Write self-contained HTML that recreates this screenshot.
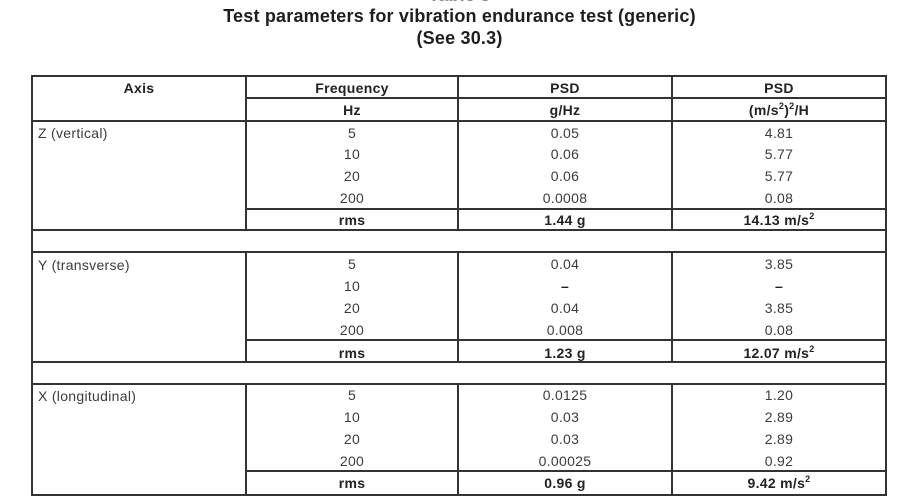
<!DOCTYPE html>
<html>
<head>
<meta charset="utf-8">
<style>
  html,body{margin:0;padding:0;background:#fff;}
  body{width:907px;height:501px;position:relative;overflow:hidden;font-family:"Liberation Sans",Arial,sans-serif;}
  .t{position:absolute;height:22px;line-height:22px;text-align:center;white-space:nowrap;font-size:14px;letter-spacing:0.3px;color:#3c3c3c;}
  .b{font-weight:bold;color:#222;}
  .l{position:absolute;background:#333;}
  .c2{left:246px;width:212px;}
  .c3{left:458px;width:214px;}
  .c4{left:672px;width:214px;}
  .ax{left:38px;text-align:left;}
  sup{font-size:9px;line-height:0;vertical-align:0;position:relative;top:-6px;}
  .title{position:absolute;left:0;width:919px;text-align:center;font-weight:bold;font-size:18px;letter-spacing:0.2px;line-height:22px;height:22px;color:#1e1e1e;white-space:nowrap;}
</style>
</head>
<body>
<div class="title" style="top:-15.7px;color:#888;">Table 3</div>
<div class="title" style="top:4.6px;">Test parameters for vibration endurance test (generic)</div>
<div class="title" style="top:27px;">(See 30.3)</div>

<!-- horizontal lines -->
<div class="l" style="left:31px;width:856px;top:75px;height:2px;"></div>
<div class="l" style="left:245px;width:642px;top:97px;height:2px;"></div>
<div class="l" style="left:31px;width:856px;top:120px;height:2px;"></div>
<div class="l" style="left:245px;width:642px;top:207.5px;height:2px;"></div>
<div class="l" style="left:31px;width:856px;top:229px;height:2px;"></div>
<div class="l" style="left:31px;width:856px;top:251.3px;height:2px;"></div>
<div class="l" style="left:245px;width:642px;top:338.5px;height:2px;"></div>
<div class="l" style="left:31px;width:856px;top:360.7px;height:2px;"></div>
<div class="l" style="left:31px;width:856px;top:383px;height:2px;"></div>
<div class="l" style="left:245px;width:642px;top:469.7px;height:2px;"></div>
<div class="l" style="left:31px;width:856px;top:494px;height:2px;"></div>

<!-- outer verticals -->
<div class="l" style="left:31px;width:2px;top:75px;height:421px;"></div>
<div class="l" style="left:885px;width:2px;top:75px;height:421px;"></div>

<!-- inner verticals per section -->
<div class="l" style="left:245px;width:2px;top:75px;height:156px;"></div>
<div class="l" style="left:457px;width:2px;top:75px;height:156px;"></div>
<div class="l" style="left:671px;width:2px;top:75px;height:156px;"></div>

<div class="l" style="left:245px;width:2px;top:251.3px;height:111px;"></div>
<div class="l" style="left:457px;width:2px;top:251.3px;height:111px;"></div>
<div class="l" style="left:671px;width:2px;top:251.3px;height:111px;"></div>

<div class="l" style="left:245px;width:2px;top:383px;height:113px;"></div>
<div class="l" style="left:457px;width:2px;top:383px;height:113px;"></div>
<div class="l" style="left:671px;width:2px;top:383px;height:113px;"></div>

<!-- header -->
<div class="t b" style="left:33px;width:212px;top:77px;">Axis</div>
<div class="t b c2" style="top:77px;">Frequency</div>
<div class="t b c3" style="top:77px;">PSD</div>
<div class="t b c4" style="top:77px;">PSD</div>
<div class="t b c2" style="top:99px;">Hz</div>
<div class="t b c3" style="top:99px;">g/Hz</div>
<div class="t b c4" style="top:99px;">(m/s<sup>2</sup>)<sup>2</sup>/H</div>

<!-- Z -->
<div class="t ax" style="top:122px;">Z (vertical)</div>
<div class="t c2" style="top:121.7px;">5</div>
<div class="t c3" style="top:121.7px;">0.05</div>
<div class="t c4" style="top:121.7px;">4.81</div>
<div class="t c2" style="top:143px;">10</div>
<div class="t c3" style="top:143px;">0.06</div>
<div class="t c4" style="top:143px;">5.77</div>
<div class="t c2" style="top:165px;">20</div>
<div class="t c3" style="top:165px;">0.06</div>
<div class="t c4" style="top:165px;">5.77</div>
<div class="t c2" style="top:186.7px;">200</div>
<div class="t c3" style="top:186.7px;">0.0008</div>
<div class="t c4" style="top:186.7px;">0.08</div>
<div class="t b c2" style="top:209px;">rms</div>
<div class="t b c3" style="top:209px;">1.44 g</div>
<div class="t b c4" style="top:209px;">14.13 m/s<sup>2</sup></div>

<!-- Y -->
<div class="t ax" style="top:253.5px;">Y (transverse)</div>
<div class="t c2" style="top:253.3px;">5</div>
<div class="t c3" style="top:253.3px;">0.04</div>
<div class="t c4" style="top:253.3px;">3.85</div>
<div class="t c2" style="top:275px;">10</div>
<div class="t c3 b" style="top:275px;">–</div>
<div class="t c4 b" style="top:275px;">–</div>
<div class="t c2" style="top:297px;">20</div>
<div class="t c3" style="top:297px;">0.04</div>
<div class="t c4" style="top:297px;">3.85</div>
<div class="t c2" style="top:319px;">200</div>
<div class="t c3" style="top:319px;">0.008</div>
<div class="t c4" style="top:319px;">0.08</div>
<div class="t b c2" style="top:341.7px;">rms</div>
<div class="t b c3" style="top:341.7px;">1.23 g</div>
<div class="t b c4" style="top:341.7px;">12.07 m/s<sup>2</sup></div>

<!-- X -->
<div class="t ax" style="top:384.5px;">X (longitudinal)</div>
<div class="t c2" style="top:384px;">5</div>
<div class="t c3" style="top:384px;">0.0125</div>
<div class="t c4" style="top:384px;">1.20</div>
<div class="t c2" style="top:406px;">10</div>
<div class="t c3" style="top:406px;">0.03</div>
<div class="t c4" style="top:406px;">2.89</div>
<div class="t c2" style="top:428px;">20</div>
<div class="t c3" style="top:428px;">0.03</div>
<div class="t c4" style="top:428px;">2.89</div>
<div class="t c2" style="top:450px;">200</div>
<div class="t c3" style="top:450px;">0.00025</div>
<div class="t c4" style="top:450px;">0.92</div>
<div class="t b c2" style="top:472.3px;">rms</div>
<div class="t b c3" style="top:472.3px;">0.96 g</div>
<div class="t b c4" style="top:472.3px;">9.42 m/s<sup>2</sup></div>
</body>
</html>
